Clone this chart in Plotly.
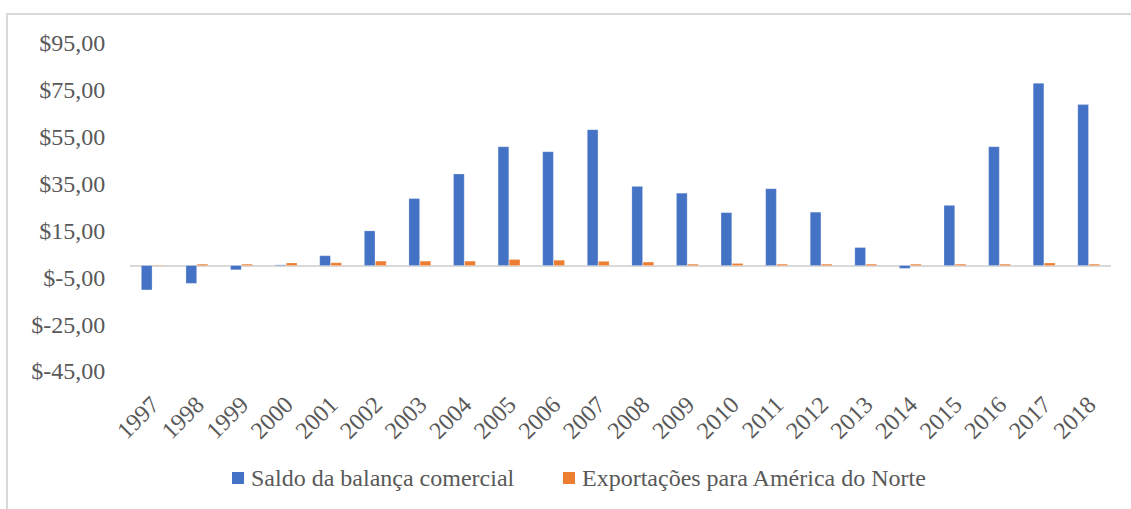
import plotly.graph_objects as go

years = [str(y) for y in range(1997, 2019)]
saldo = [-10.4, -7.6, -1.8, 0.3, 4.2, 14.8, 28.6, 39.1, 50.7, 48.6, 58.0,
         33.8, 30.9, 22.6, 32.8, 22.8, 7.7, -1.2, 25.7, 50.7, 77.8, 68.7]
exportacoes = [0.2, 0.6, 0.6, 1.1, 1.2, 1.9, 1.9, 1.9, 2.6, 2.3, 1.8,
               1.5, 0.6, 0.9, 0.6, 0.6, 0.6, 0.6, 0.6, 0.6, 1.1, 0.6]
tick_values = [-45, -25, -5, 15, 35, 55, 75, 95]
tick_labels = ["$-45,00", "$-25,00", "$-5,00", "$15,00", "$35,00", "$55,00", "$75,00", "$95,00"]
series_names = ["Saldo da balança comercial", "Exportações para América do Norte"]
series_colors = ["#4472C4", "#ED7D31"]

FONT = "'Liberation Serif', 'Times New Roman', serif"
GRAY = "#595959"
FS = 24

fig = go.Figure()
for vals, name, col in zip([saldo, exportacoes], series_names, series_colors):
    fig.add_trace(go.Bar(x=years, y=vals, name=name,
                         marker=dict(color=col, line=dict(color="rgba(255,255,255,0.5)", width=0.5))))

W, H = 1131, 509
L, R, T, B = 130, 20, 43, 138
pw, ph = W - L - R, H - T - B

def px_x(p):
    return (p - L) / pw

def px_y(p):
    return (H - B - p) / ph

shapes = [dict(type="rect", xref="paper", yref="paper",
               x0=px_x(7), x1=px_x(1160), y0=px_y(540), y1=px_y(14),
               line=dict(color="#d9d9d9", width=2), fillcolor="rgba(0,0,0,0)", layer="below")]
annotations = []
legend_marker_x = [232, 563]
legend_text_x = [249, 580]
for mx, tx, name, col in zip(legend_marker_x, legend_text_x, series_names, series_colors):
    shapes.append(dict(type="rect", xref="paper", yref="paper",
                       x0=px_x(mx), x1=px_x(mx + 12), y0=px_y(484), y1=px_y(472),
                       line=dict(width=0), fillcolor=col))
    annotations.append(dict(xref="paper", yref="paper", x=px_x(tx), y=px_y(478),
                            xanchor="left", yanchor="middle", showarrow=False, text=name,
                            font=dict(family=FONT, size=FS, color=GRAY)))

fig.update_layout(
    width=W, height=H,
    margin=dict(l=L, r=R, t=T, b=B, autoexpand=False),
    paper_bgcolor="white", plot_bgcolor="white",
    barmode="group", bargap=0.5, bargroupgap=0.04,
    font=dict(family=FONT, color=GRAY, size=FS),
    showlegend=False,
    shapes=shapes, annotations=annotations,
)
fig.update_xaxes(type="category", showgrid=False, showline=False, zeroline=False, automargin=False,
                 tickangle=-45, tickfont=dict(family=FONT, size=FS, color=GRAY),
                 ticks="outside", ticklen=9, tickcolor="rgba(0,0,0,0)")
fig.update_yaxes(range=[-45, 95], tickvals=tick_values, ticktext=tick_labels, automargin=False,
                 showgrid=False, showline=False, zeroline=True, zerolinecolor="#d9d9d9",
                 zerolinewidth=2, tickfont=dict(family=FONT, size=FS, color=GRAY),
                 ticks="outside", ticklen=19, tickcolor="rgba(0,0,0,0)")

fig.write_html("out.html", config={"displayModeBar": False},
               post_script="document.body.style.margin='0';")
